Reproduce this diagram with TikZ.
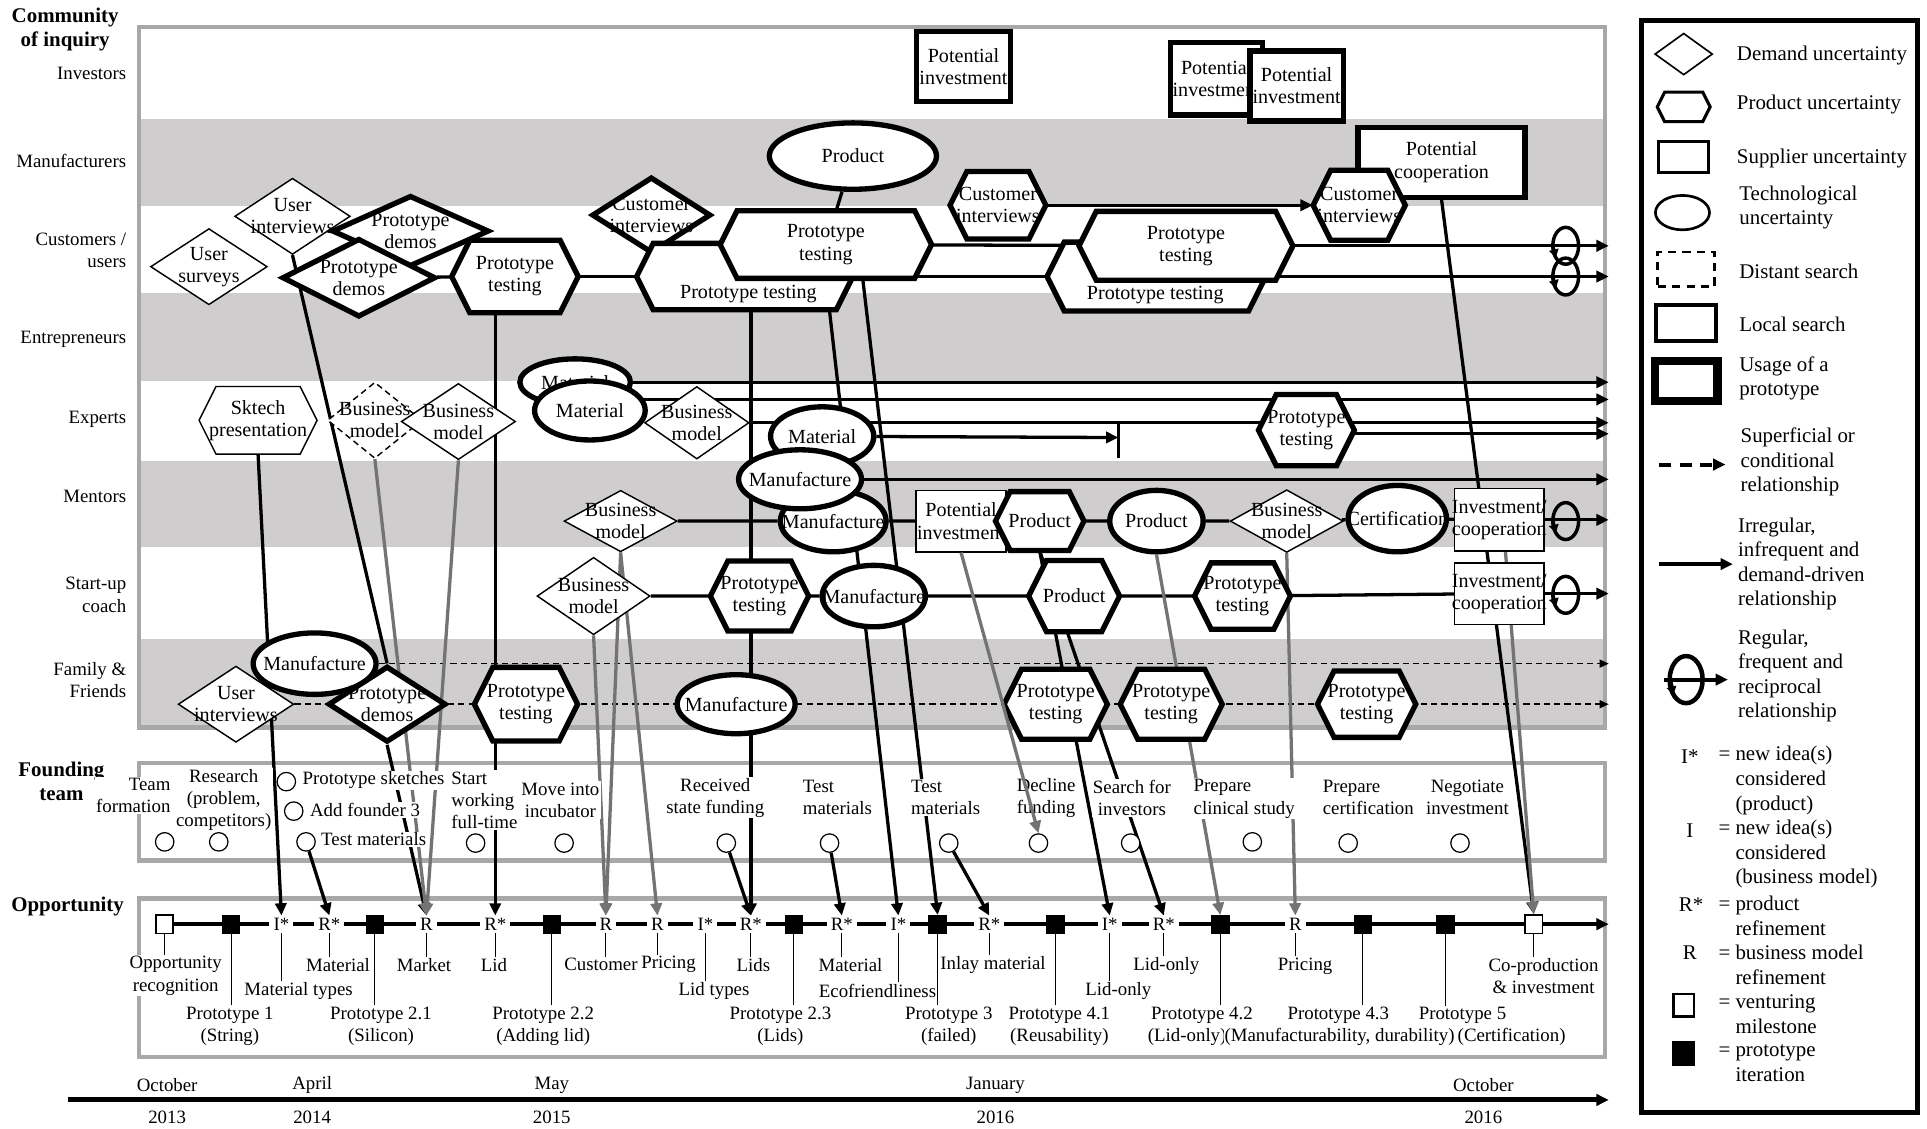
\documentclass[tikz,border=0pt]{standalone}
\usepackage{fontspec}
\setmainfont{Liberation Serif}
\usetikzlibrary{shapes.geometric,arrows.meta,calc}

\definecolor{bandgray}{RGB}{207,205,205}
\definecolor{framegray}{RGB}{168,168,168}
\definecolor{linkgray}{RGB}{115,115,115}

\pgfdeclarelayer{back}
\pgfdeclarelayer{links}
\pgfdeclarelayer{front}
\pgfsetlayers{back,links,main,front}

\newcommand\pxu{0.6pt}

\tikzset{
  txt/.style={align=center, inner sep=0pt, font=\fontsize{9.2}{10.8}\selectfont},
  stxt/.style={align=center, inner sep=0pt, font=\fontsize{9.8}{10.8}\selectfont},
  ftxt/.style={txt, fill=white, inner sep=0.6pt},
  olbl/.style={txt, fill=white, inner sep=0.5pt},
  rowlbl/.style={align=right, anchor=east, inner sep=0pt, font=\fontsize{9.2}{10.8}\selectfont},
  head/.style={align=center, inner sep=0pt, font=\fontsize{10.2}{11.6}\selectfont\bfseries},
  leg/.style={anchor=west, align=left, inner sep=0pt, font=\fontsize{10.2}{12}\selectfont},
  anchorbox/.style={rectangle, draw=none, inner sep=0pt},
  usage/.style={line width=2.6pt},
  local/.style={line width=0.7pt},
  distant/.style={line width=0.7pt, dash pattern=on 3pt off 2pt},
  frame/.style={draw=framegray, line width=2.2pt},
  link/.style={line width=1.6pt},
  glink/.style={line width=1.6pt, draw=linkgray},
  dline/.style={line width=0.7pt, dash pattern=on 3pt off 2pt},
  tip/.style={-{Triangle[length=6pt,width=5.5pt]}},
  smalltip/.style={-{Triangle[length=4.5pt,width=4pt]}},
  lett/.style={fill=white, inner xsep=2pt, inner ysep=1pt, font=\fontsize{9.2}{10.8}\selectfont},
  blk/.style={draw, fill=black, minimum size=8.6pt, inner sep=0pt},
  wht/.style={draw, fill=white, line width=0.8pt, minimum width=8.4pt, minimum height=9pt, inner sep=0pt},
  tick/.style={line width=0.5pt},
  circ/.style={circle, draw, fill=white, line width=0.6pt, minimum size=9pt, inner sep=0pt},
}

% shape helpers: name, x, y, width, height (in px units), line style, text
\newcommand\shpHex[7]{%
  \path[draw, fill=white, line join=miter, #6]
    ({#2-(#4)/2},{#3})
    -- ({#2-(#4)/2+0.25*(#5)},{#3-(#5)/2})
    -- ({#2+(#4)/2-0.25*(#5)},{#3-(#5)/2})
    -- ({#2+(#4)/2},{#3})
    -- ({#2+(#4)/2-0.25*(#5)},{#3+(#5)/2})
    -- ({#2-(#4)/2+0.25*(#5)},{#3+(#5)/2}) -- cycle;
  \node[anchorbox, minimum width=#4*\pxu, minimum height=#5*\pxu] (#1) at (#2,#3) {};
  \node[stxt] at (#1) {#7};}
\newcommand\shpDia[7]{%
  \node[diamond, draw, fill=white, inner sep=0pt, minimum width=#4*\pxu, minimum height=#5*\pxu, #6] (#1) at (#2,#3) {};
  \node[stxt] at (#1) {#7};}
\newcommand\shpEll[7]{%
  \node[ellipse, draw, fill=white, inner sep=0pt, minimum width=#4*\pxu, minimum height=#5*\pxu, #6] (#1) at (#2,#3) {};
  \node[stxt] at (#1) {#7};}
\newcommand\shpRect[7]{%
  \node[rectangle, draw, fill=white, inner sep=0pt, minimum width=#4*\pxu, minimum height=#5*\pxu, #6] (#1) at (#2,#3) {};
  \node[stxt] at (#1) {#7};}
% reciprocal loop: ellipse around the line with a small arrowhead on its left side
\newcommand\loopmark[3]{%
  \draw[line width=#3] (#1) ellipse [x radius=#2*0.7pt, y radius=#2*1pt];
  \draw[line width=#3, -{Triangle[length=4pt,width=4.6pt]}]
    ($(#1)+(180:#2*0.7pt and #2*1pt)$) -- ($(#1)+(220:#2*0.7pt and #2*1pt)$);}

\begin{document}
\begin{tikzpicture}[x=0.6pt, y=-0.6pt]
\useasboundingbox (0,0) rectangle (1568,918);

% ---------- lanes and frames ----------
\begin{pgfonlayer}{back}
  \fill[white] (0,0) rectangle (1568,918);
  \fill[bandgray] (113,97) rectangle (1306,168);
  \fill[bandgray] (113,238) rectangle (1306,310);
  \fill[bandgray] (113,375) rectangle (1306,445);
  \fill[bandgray] (113,520) rectangle (1306,592);
  \draw[frame] (113,22) rectangle (1306,592);
  \draw[frame] (113,621) rectangle (1306,700);
  \draw[frame] (113,731) rectangle (1306,860);
\end{pgfonlayer}
\coordinate (E) at (1309,0);

% ---------- row headings ----------
\node[head] (hCom) at (53,24) {Community\\of inquiry};
\node[rowlbl] (rInv) at (103,60) {Investors};
\node[rowlbl] (rMan) at (103,131) {Manufacturers};
\node[rowlbl] (rCus) at (103,204) {Customers /\\users};
\node[rowlbl] (rEnt) at (103,276) {Entrepreneurs};
\node[rowlbl] (rExp) at (103,341) {Experts};
\node[rowlbl] (rMen) at (103,404) {Mentors};
\node[rowlbl] (rSta) at (103,484) {Start-up\\coach};
\node[rowlbl] (rFam) at (103,553) {Family \&\\Friends};
\node[head] (hFou) at (50,636) {Founding\\team};
\node[head] (hOpp) at (55,738) {Opportunity};

% ---------- investors / manufacturers ----------
\shpRect{piA}{784}{54}{76}{57}{usage}{Potential\\investment}
\shpRect{piB}{990}{64}{75}{59}{usage}{Potential\\investment}
\shpRect{piC}{1055}{70}{76}{57}{usage}{Potential\\investment}
\shpEll{prodE}{694}{127}{136}{54}{usage}{Product}
\shpRect{coop}{1173}{132}{136}{57}{usage}{Potential\\cooperation}

% ---------- customers / users ----------
\shpDia{usurv}{170}{217}{95}{62}{local}{User\\surveys}
\shpDia{uint}{238}{176}{94}{62}{local}{User\\interviews}
\shpDia{pdU}{334}{188}{128}{58}{usage}{Prototype\\demos}
\shpDia{pdL}{292}{226}{125}{64}{usage}{Prototype\\demos}
\shpHex{ptC}{419}{225}{103}{59}{usage}{Prototype\\testing}
\shpDia{ciD}{530}{175}{97}{62}{usage}{Customer\\interviews}
\shpHex{ptLM}{606}{225}{176}{54}{usage}{}
\node[stxt] at (609,239) {Prototype testing};
\shpHex{ptUM}{672}{199}{172}{55}{usage}{Prototype\\testing}
\shpHex{ciM}{812}{167}{78}{55}{usage}{Customer\\interviews}
\shpHex{ptLR}{941}{225}{178}{56}{usage}{}
\node[stxt] at (940,240) {Prototype testing};
\shpHex{ptUR}{965}{200}{174}{56}{usage}{Prototype\\testing}
\shpHex{ciR}{1106}{167}{75}{57}{usage}{Customer\\interviews}

% ---------- experts ----------
\shpHex{sk}{210}{342}{96}{55}{local}{Sktech\\presentation}
\shpDia{bmD}{305}{342}{77}{62}{distant}{Business\\model}
\shpDia{bmE}{373}{343}{93}{62}{local}{Business\\model}
\shpEll{matU}{468}{311}{90}{38}{usage}{Material}
\shpEll{matL}{480}{334}{90}{48}{usage}{Material}
\shpDia{bmE2}{567}{344}{85}{59}{local}{Business\\model}
\shpEll{mat3}{669}{355}{84}{48}{usage}{Material}
\shpHex{ptE}{1063}{350}{78}{58}{usage}{Prototype\\testing}

% ---------- mentors ----------
\shpDia{bmM}{505}{424}{92}{50}{local}{Business\\model}
\shpEll{manM2}{678}{424}{86}{50}{usage}{Manufacture}
\shpEll{manM1}{651}{390}{100}{48}{usage}{Manufacture}
\shpRect{piM}{782}{424}{73}{50}{local}{Potential\\investment}
\shpHex{prodH}{846}{424}{72}{48}{usage}{Product}
\shpEll{prodE2}{941}{424}{76}{50}{usage}{Product}
\shpDia{bmM2}{1047}{424}{92}{51}{local}{Business\\model}
\shpEll{cert}{1137}{422}{80}{54}{usage}{Certification}
\shpRect{invU}{1220}{423}{73}{51}{local}{Investment/\\cooperation}

% ---------- start-up coach ----------
\shpDia{bmS}{483}{485}{92}{63}{local}{Business\\model}
\shpHex{ptS}{618}{485}{80}{57}{usage}{Prototype\\testing}
\shpEll{manS}{711}{485}{84}{50}{usage}{Manufacture}
\shpHex{prodS}{874}{485}{74}{58}{usage}{Product}
\shpHex{ptS2}{1011}{485}{78}{54}{usage}{Prototype\\testing}
\shpRect{invL}{1220}{483}{73}{50}{local}{Investment/\\cooperation}

% ---------- family & friends ----------
\shpDia{uiF}{192}{573}{94}{62}{local}{User\\interviews}
\shpEll{manF}{256}{540}{100}{50}{usage}{Manufacture}
\shpDia{pdF}{315}{573}{96}{62}{usage}{Prototype\\demos}
\shpHex{ptF}{428}{573}{84}{60}{usage}{Prototype\\testing}
\shpEll{manF2}{599}{573}{96}{48}{usage}{Manufacture}
\shpHex{ptF2}{859}{573}{84}{57}{usage}{Prototype\\testing}
\shpHex{ptF3}{953}{573}{83}{57}{usage}{Prototype\\testing}
\shpHex{ptF4}{1112}{573}{80}{54}{usage}{Prototype\\testing}

% ---------- founding team ----------
\node[ftxt, align=right, anchor=east] (tTeam) at (140,647) {Team\\formation};
\node[ftxt] (tRes) at (182,651) {Research\\(problem,\\competitors)};
\node[ftxt, anchor=west] (tSk) at (245,635) {Prototype sketches};
\node[ftxt, anchor=west] (tAdd) at (251,659) {Add founder 3};
\node[ftxt, anchor=west] (tTm1) at (260,683) {Test materials};
\node[ftxt, align=left, anchor=west] (tStart) at (366,651) {Start\\working\\full-time};
\node[ftxt] (tMove) at (456,651) {Move into\\incubator};
\node[ftxt] (tRec) at (582,649) {Received\\state funding};
\node[ftxt, align=left, anchor=west] (tTm2) at (652,649) {Test\\materials};
\node[ftxt, align=left, anchor=west] (tTm3) at (740,649) {Test\\materials};
\node[ftxt, align=left, anchor=west] (tDec) at (826,649) {Decline\\funding};
\node[ftxt] (tSea) at (921,649) {Search for\\investors};
\node[ftxt, align=left, anchor=west] (tPc) at (970,650) {Prepare\\clinical study};
\node[ftxt, align=left, anchor=west] (tPcert) at (1075,649) {Prepare\\certification};
\node[ftxt] (tNeg) at (1194,649) {Negotiate\\investment};
\node[circ] (f1) at (134,685) {};
\node[circ] (f2) at (178,685) {};
\node[circ] (fa) at (233,636) {};
\node[circ] (fb) at (239,660) {};
\node[circ] (f3) at (249,685) {};
\node[circ] (f4) at (387,686) {};
\node[circ] (f5) at (459,686) {};
\node[circ] (f8) at (591,686) {};
\node[circ] (f9) at (675,686) {};
\node[circ] (f10) at (772,686) {};
\node[circ] (f11) at (845,686) {};
\node[circ] (f12) at (920,686) {};
\node[circ] (f13) at (1019,685) {};
\node[circ] (f14) at (1097,686) {};
\node[circ] (f15) at (1188,686) {};

% ---------- opportunity track ----------
\node[wht] (m1) at (134,752) {};
\node[blk] (m2) at (188,752) {};
\node[lett] (m3) at (229,752) {I*};
\node[lett] (m4) at (268,752) {R*};
\node[blk] (m5) at (305,752) {};
\node[lett] (m6) at (347,752) {R};
\node[lett] (m7) at (403,752) {R*};
\node[blk] (m8) at (449,752) {};
\node[lett] (m9) at (493,752) {R};
\node[lett] (m10) at (535,752) {R};
\node[lett] (m11) at (574,752) {I*};
\node[lett] (m12) at (611,752) {R*};
\node[blk] (m13) at (646,752) {};
\node[lett] (m14) at (685,752) {R*};
\node[lett] (m15) at (731,752) {I*};
\node[blk] (m16) at (763,752) {};
\node[lett] (m17) at (805,752) {R*};
\node[blk] (m18) at (859,752) {};
\node[lett] (m19) at (903,752) {I*};
\node[lett] (m20) at (947,752) {R*};
\node[blk] (m21) at (993,752) {};
\node[lett] (m22) at (1054,752) {R};
\node[blk] (m23) at (1109,752) {};
\node[blk] (m24) at (1176,752) {};
\node[wht] (m25) at (1248,752) {};

\node[olbl] (l1) at (143,794) {Opportunity\\recognition};
\node[olbl] (l2) at (187,835) {Prototype 1\\(String)};
\node[olbl] (l3) at (243,806) {Material types};
\node[olbl] (l4) at (275,785) {Material};
\node[olbl] (l5) at (310,835) {Prototype 2.1\\(Silicon)};
\node[olbl] (l6) at (345,785) {Market};
\node[olbl] (l7) at (402,785) {Lid};
\node[olbl] (l8) at (442,835) {Prototype 2.2\\(Adding lid)};
\node[olbl] (l9) at (489,785) {Customer};
\node[olbl] (l10) at (544,785) {Pricing};
\node[olbl] (l11) at (581,806) {Lid types};
\node[olbl] (l12) at (613,785) {Lids};
\node[olbl] (l13) at (635,835) {Prototype 2.3\\(Lids)};
\node[olbl] (l14) at (692,785) {Material};
\node[olbl] (l15) at (714,806) {Ecofriendliness};
\node[olbl] (l16) at (772,835) {Prototype 3\\(failed)};
\node[olbl] (l17) at (808,785) {Inlay material};
\node[olbl] (l18) at (862,835) {Prototype 4.1\\(Reusability)};
\node[olbl] (l19) at (910,806) {Lid-only};
\node[olbl] (l20) at (949,786) {Lid-only};
\node[olbl] (l21) at (978,826) {Prototype 4.2};
\node[olbl] (l21b) at (966,844) {(Lid-only)};
\node[olbl] (l22) at (1062,786) {Pricing};
\node[olbl] (l23) at (1089,826) {Prototype 4.3};
\node[olbl] (l23b) at (1090,844) {(Manufacturability, durability)};
\node[olbl] (l24) at (1190,826) {Prototype 5};
\node[olbl] (l24b) at (1230,844) {(Certification)};
\node[olbl] (l25) at (1256,794) {Co-production\\\& investment};

% ---------- time axis ----------
\coordinate (tA) at (55,895);
\coordinate (tB) at (1309,895);
\draw[line width=2.4pt, tip] (tA) -- (tB);
\foreach \xx/\mo/\yr in {136/October/2013, 254/April/2014, 449/May/2015, 810/January/2016, 1207/October/2016}{
  \node[txt] at (\xx,883) {\mo};
  \node[txt] at (\xx,909) {\yr};
}

% ---------- relationships ----------
\begin{pgfonlayer}{links}
  % customers / users
  \draw[link] (pdL) -- (ptC);
  \draw[link] (ptC) -- (ptLM);
  \draw[link] (ptLM) -- (ptLR);
  \draw[link, tip] (ptLR) -- (ptLR -| E);
  \draw[link] (ptUM) -- (ptUR);
  \draw[link, tip] (ptUR) -- (ptUR -| E);
  \draw[link, tip] (ciM) -- (ciR.west);
  \draw[link] (prodE) -- (ptUM);
  % experts
  \draw[link, tip] (matU) -- (matU -| E);
  \draw[link, tip] ($(matL)+(0,-9)$) -- ($(matL -| E)+(0,-9)$);
  \draw[link, tip] (bmE2) -- (bmE2 -| E);
  \draw[link, tip] ($(ptE)+(0,3)$) -- ($(ptE -| E)+(0,3)$);
  \coordinate (bar) at (910,356);
  \draw[link, tip] (mat3) -- (bar);
  \draw[link] ($(bar)+(0,-12)$) -- ($(bar)+(0,17)$);
  % mentors
  \draw[link, tip] (manM1) -- (manM1 -| E);
  \draw[link] (bmM) -- (manM2) -- (piM) -- (prodH) -- (prodE2) -- (bmM2) -- (cert) -- (invU);
  \draw[link, tip] (invU) -- (invU -| E);
  % start-up coach
  \draw[link] (bmS) -- (ptS) -- (manS) -- (prodS) -- (ptS2) -- (invL);
  \draw[link, tip] (invL) -- (invL -| E);
  % family & friends
  \draw[dline, smalltip] (manF) -- (manF -| E);
  \draw[dline, smalltip] (uiF) -- (uiF -| E);
  % into the opportunity track
  \draw[link, tip] (sk.south) -- (m3.north);
  \draw[link, tip] (f3) -- (m4.north);
  \draw[link] (uint.south) -- (pdF.north);
  \draw[link, tip] (pdF.south) -- (m6.north);
  \draw[glink, tip] (bmD.south) -- (m6.north);
  \draw[glink, tip] (bmE.south) -- (m6.north);
  \draw[link, tip] (ptC.south -| m7.north) -- (m7.north);
  \draw[glink, tip] (bmS.south) -- (m9.north);
  \draw[glink, tip] (bmM.south) -- (m9.north);
  \draw[glink, tip] (bmM.south) -- (m10.north);
  \draw[link, tip] (ptLM.south -| m12.north) -- (m12.north);
  \draw[link, tip] (f8) -- (m12.north);
  \draw[link, tip] (f9) -- (m14.north);
  \draw[link, tip] (ptUM.south) -- (m15.north);
  \draw[link, tip] ($(ptUM.south)+(30,0)$) -- (m16.north);
  \draw[link, tip] (f10) -- (m17.north);
  \draw[link, tip] (prodH.south) -- (m19.north);
  \draw[link, tip] (prodH.south) -- (m20.north);
  \draw[glink, tip] (prodE2.south) -- (m21.north);
  \draw[glink, tip] (bmM2.south) -- (m22.north);
  \draw[link, tip] (coop.south) -- (m25.north);
  \draw[glink, tip] ($(invU.south)+(5,0)$) -- (m25.north);
  % opportunity line and ticks
  \draw[line width=2pt, tip] (m1) -- (m1 -| E);
  \foreach \i in {1,...,25}{\draw[tick] (m\i.south) -- (m\i.south |- l\i.north);}
\end{pgfonlayer}
\begin{pgfonlayer}{front}
  \draw[glink, tip] (piM.south) -- (f11.north);
\end{pgfonlayer}

% reciprocal loops
\coordinate (lp1) at (1274,200);
\coordinate (lp2) at (1274,225);
\coordinate (lp3) at (1274,424);
\coordinate (lp4) at (1274,484);
\loopmark{lp1}{9}{1.7pt}\loopmark{lp2}{9}{1.7pt}\loopmark{lp3}{9}{1.7pt}\loopmark{lp4}{9}{1.7pt}

% ---------- legend ----------
\draw[line width=2.4pt] (1336,17) rectangle (1560,905);
\shpDia{lgD}{1370}{44}{47}{34}{line width=0.8pt}{}
\shpHex{lgH}{1370}{87}{43}{24}{line width=1.5pt}{}
\shpRect{lgS}{1370}{128}{41}{25}{line width=1.5pt}{}
\shpEll{lgT}{1369}{173}{44}{28}{line width=1.3pt}{}
\shpRect{lgDs}{1372}{219}{46}{28}{line width=1.4pt, dash pattern=on 4pt off 3pt}{}
\shpRect{lgL}{1372}{263}{49}{29}{line width=2pt}{}
\shpRect{lgU}{1372}{310}{51}{33}{line width=4pt}{}
\coordinate (lgA1) at (1350,378); \coordinate (lgA2) at (1404,378);
\draw[line width=2pt, dash pattern=on 6pt off 4pt, tip] (lgA1) -- (lgA2);
\coordinate (lgB1) at (1350,459); \coordinate (lgB2) at (1410,459);
\draw[line width=2pt, tip] (lgB1) -- (lgB2);
\coordinate (lgC1) at (1354,553); \coordinate (lgC2) at (1406,553);
\draw[line width=2pt, tip] (lgC1) -- (lgC2);
\coordinate (lgC) at (1372,553);
\loopmark{lgC}{11.5}{2.2pt}

\node[leg] at (1413,45) {Demand uncertainty};
\node[leg] at (1413,85) {Product uncertainty};
\node[leg] at (1413,129) {Supplier uncertainty};
\node[leg] at (1415,169) {Technological\\uncertainty};
\node[leg] at (1415,221) {Distant search};
\node[leg] at (1415,264) {Local search};
\node[leg] at (1415,308) {Usage of a\\prototype};
\node[leg] at (1416,376) {Superficial or\\conditional\\relationship};
\node[leg] at (1414,459) {Irregular,\\infrequent and\\demand-driven\\relationship};
\node[leg] at (1414,550) {Regular,\\frequent and\\reciprocal\\relationship};

\node[leg, anchor=center] at (1375,616) {I*};
\node[leg] at (1398,635) {= new idea(s)\\\phantom{= }considered\\\phantom{= }(product)};
\node[leg, anchor=center] at (1375,676) {I};
\node[leg] at (1398,695) {= new idea(s)\\\phantom{= }considered\\\phantom{= }(business model)};
\node[leg, anchor=center] at (1376,736) {R*};
\node[leg] at (1398,745) {= product\\\phantom{= }refinement};
\node[leg, anchor=center] at (1375,775) {R};
\node[leg] at (1398,785) {= business model\\\phantom{= }refinement};
\node[draw, line width=1.3pt, fill=white, minimum width=10pt, minimum height=11pt, inner sep=0pt] (lgV) at (1370,818) {};
\node[leg] at (1398,825) {= venturing\\\phantom{= }milestone};
\node[fill=black, minimum width=11pt, minimum height=12pt, inner sep=0pt] (lgP) at (1370,857) {};
\node[leg] at (1398,865) {= prototype\\\phantom{= }iteration};
\end{tikzpicture}
\end{document}
